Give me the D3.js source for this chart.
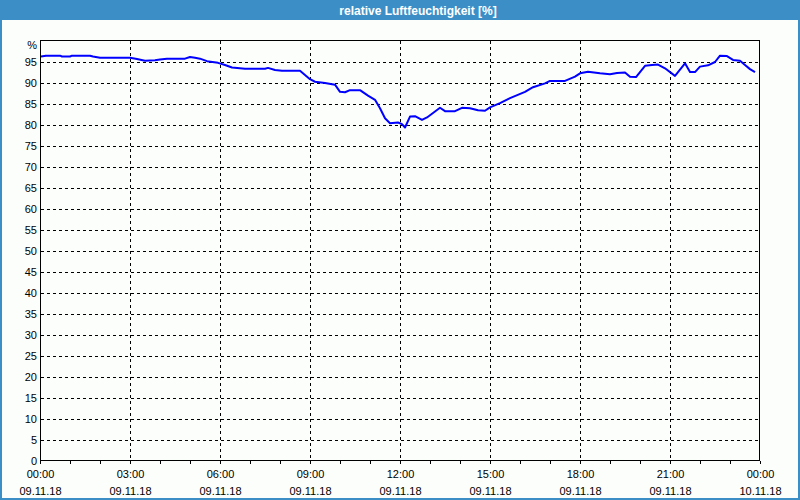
<!DOCTYPE html>
<html>
<head>
<meta charset="utf-8">
<script src="https://cdn.jsdelivr.net/npm/d3@7"></script>
<style>
html,body{margin:0;padding:0;background:#fff;}
svg{display:block;}
</style>
</head>
<body>
<svg id="chart" width="800" height="500"></svg>
<script>
// minutes after 09.11.18 00:00
const minutes = [0,10,38,42,58,62,98,104,118,178,192,208,228,238,252,288,298,308,318,332,354,368,382,408,448,454,468,482,518,528,538,548,568,588,598,608,618,638,654,668,678,688,698,714,722,728,738,748,762,772,798,808,828,842,858,874,888,898,918,938,968,984,1008,1018,1048,1068,1078,1094,1118,1138,1152,1168,1178,1190,1208,1222,1234,1248,1268,1288,1298,1308,1318,1334,1348,1358,1372,1384,1398,1408,1418,1428];
const humidity = [96.3,96.5,96.5,96.3,96.3,96.5,96.5,96.3,96.0,96.0,95.7,95.3,95.4,95.6,95.8,95.8,96.2,96.0,95.8,95.2,94.8,94.3,93.7,93.4,93.4,93.6,93.1,92.9,92.9,91.9,90.9,90.3,90.0,89.6,87.9,87.8,88.3,88.3,87.0,86.0,84.0,81.6,80.4,80.6,80.2,79.4,82.0,82.1,81.2,81.8,84.1,83.3,83.3,84.1,84.0,83.5,83.4,84.2,85.2,86.4,87.9,89.0,89.9,90.5,90.5,91.5,92.3,92.7,92.3,92.1,92.4,92.5,91.5,91.4,94.1,94.3,94.4,93.5,91.7,94.7,92.6,92.6,93.9,94.2,95.0,96.5,96.4,95.5,95.3,94.3,93.3,92.6];
const yTicks = [0,5,10,15,20,25,30,35,40,45,50,55,60,65,70,75,80,85,90,95];
const xTickTimes = ["00:00","03:00","06:00","09:00","12:00","15:00","18:00","21:00","00:00"];
const xTickDates = ["09.11.18","09.11.18","09.11.18","09.11.18","09.11.18","09.11.18","09.11.18","09.11.18","10.11.18"];
const title = "relative Luftfeuchtigkeit [%]";
const unit = "%";

(function(){
const svg = d3.select("#chart");
const W = 800, H = 500;
const blue = "#3c8fc6";
const font = "'Liberation Sans', Arial, sans-serif";

// window frame
svg.append("rect").attr("x",0).attr("y",0).attr("width",W).attr("height",H).attr("fill",blue);
svg.append("rect").attr("x",2).attr("y",20).attr("width",W-4).attr("height",H-22).attr("fill","#fcfefc");
svg.append("text").attr("x",418).attr("y",14.5).attr("text-anchor","middle")
  .attr("fill","#fff").attr("font-family",font).attr("font-weight","bold").attr("font-size",12).text(title);

const pL = 41, pR = 761, pT = 41, pB = 461;
const t0 = new Date(2018,10,9,0,0), t1 = new Date(2018,10,10,0,0);
const x = d3.scaleTime().domain([t0,t1]).range([pL,pR]);
const y = d3.scaleLinear().domain([0,100]).range([pB,pT]);

const data = minutes.map((m,i)=>({t:new Date(t0.getTime()+m*60000), v:humidity[i]}));

const g = svg.append("g");
// horizontal grid
g.selectAll("line.hg").data(yTicks.filter(d=>d>0)).join("line")
  .attr("x1",pL).attr("x2",pR-1).attr("y1",d=>Math.round(y(d))+0.5).attr("y2",d=>Math.round(y(d))+0.5)
  .attr("stroke","#000").attr("stroke-dasharray","3,3").attr("shape-rendering","crispEdges");
// vertical grid every 3h
const majors = d3.timeHour.every(3).range(t0, new Date(t1.getTime()+1));
g.selectAll("line.vg").data(majors.slice(1,-1)).join("line")
  .attr("x1",d=>Math.round(x(d))-0.5).attr("x2",d=>Math.round(x(d))-0.5).attr("y1",pT).attr("y2",pB)
  .attr("stroke","#000").attr("stroke-dasharray","3,3").attr("shape-rendering","crispEdges");

// frame
g.append("rect").attr("x",pL-0.5).attr("y",pT-0.5).attr("width",pR-pL-1).attr("height",pB-pT)
  .attr("fill","none").attr("stroke","#000").attr("stroke-width",1.5).attr("shape-rendering","crispEdges");

// minor ticks (hourly)
const hours = d3.timeHour.every(1).range(t0, new Date(t1.getTime()+1));
g.selectAll("line.tk").data(hours).join("line")
  .attr("x1",d=>Math.round(x(d))-0.5).attr("x2",d=>Math.round(x(d))-0.5).attr("y1",pB).attr("y2",pB+3)
  .attr("stroke","#000").attr("shape-rendering","crispEdges");

// y labels
g.selectAll("text.yl").data(yTicks).join("text")
  .attr("x",37).attr("y",d=>y(d)+4).attr("text-anchor","end")
  .attr("font-family",font).attr("font-size",11).attr("fill","#000").text(d=>d);
g.append("text").attr("x",37).attr("y",49).attr("text-anchor","end")
  .attr("font-family",font).attr("font-size",11).attr("fill","#000").text(unit);

// x labels
const xl = g.selectAll("g.xl").data(majors).join("g")
  .attr("transform",d=>`translate(${x(d)-0.5},0)`);
xl.append("text").attr("y",478).attr("text-anchor","middle").attr("font-family",font).attr("font-size",11)
  .text((d,i)=>xTickTimes[i]);
xl.append("text").attr("y",494.5).attr("text-anchor","middle").attr("font-family",font).attr("font-size",11)
  .text((d,i)=>xTickDates[i]);

// line
const line = d3.line().x(d=>x(d.t)).y(d=>y(d.v));
g.append("path").datum(data).attr("d",line).attr("fill","none")
  .attr("stroke","#0000ff").attr("stroke-width",2).attr("stroke-linejoin","round");
})();
</script>
</body>
</html>
